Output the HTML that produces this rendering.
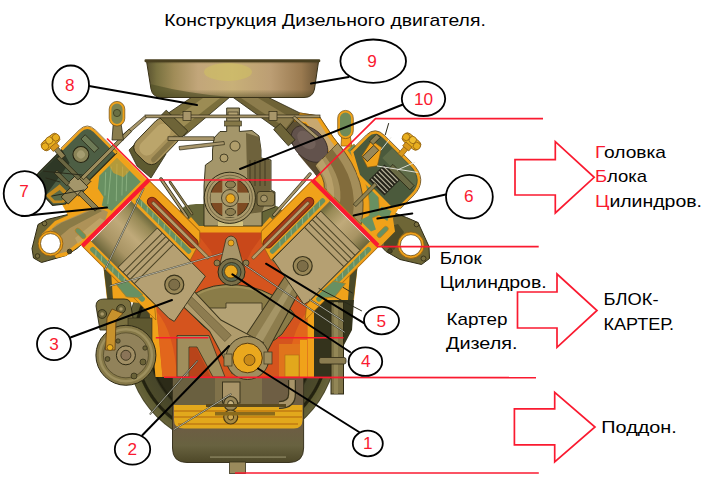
<!DOCTYPE html>
<html lang="ru"><head><meta charset="utf-8"><title>Конструкция Дизельного двигателя</title>
<style>
html,body{margin:0;padding:0;background:#fff;}
body{width:702px;height:494px;overflow:hidden;position:relative;}
svg{position:absolute;left:0;top:0;display:block;}
text{font-family:"Liberation Sans","DejaVu Sans",sans-serif;}
.t{font-size:16.6px;fill:#000;}
.r{fill:#fa1a30;}
.n{font-size:17.2px;fill:#fa1a30;text-anchor:middle;}
.rl{stroke:#fa1a30;stroke-width:1.6;fill:none;}
.ar{stroke:#fa1a30;stroke-width:1.7;fill:#fff;stroke-linejoin:miter;}
.c{fill:#fff;stroke:#000;stroke-width:1.8;}
.bl{stroke:#000;stroke-width:2;fill:none;stroke-linecap:round;}
</style></head><body>
<svg id="main" width="702" height="494" viewBox="0 0 702 494">
<!--ENGINE-->
<g id="engine">
<defs>
<linearGradient id="gPan" x1="0" y1="0" x2="1" y2="0">
<stop offset="0" stop-color="#5a5230"/><stop offset="0.06" stop-color="#7a7240"/><stop offset="0.16" stop-color="#a08c58"/><stop offset="0.3" stop-color="#c2a67a"/><stop offset="0.5" stop-color="#c8b078"/><stop offset="0.72" stop-color="#bc9e74"/><stop offset="0.9" stop-color="#9a7a50"/><stop offset="1" stop-color="#6a5434"/>
</linearGradient>
<linearGradient id="gPanV" x1="0" y1="0" x2="0" y2="1">
<stop offset="0" stop-color="#3a3218" stop-opacity="0.5"/><stop offset="0.08" stop-color="#3a3218" stop-opacity="0"/><stop offset="0.78" stop-color="#4a4420" stop-opacity="0"/><stop offset="1" stop-color="#4a4420" stop-opacity="0.55"/>
</linearGradient>
<linearGradient id="gSump" x1="0" y1="0" x2="0" y2="1">
<stop offset="0" stop-color="#6e6038"/><stop offset="0.45" stop-color="#705a46"/><stop offset="0.8" stop-color="#686240"/><stop offset="1" stop-color="#4e4828"/>
</linearGradient>
<radialGradient id="gFly" cx="0.5" cy="0.5" r="0.5">
<stop offset="0.76" stop-color="#2c2b18"/><stop offset="0.78" stop-color="#1e1d0e"/><stop offset="0.8" stop-color="#47462a"/><stop offset="0.89" stop-color="#4c4a2a"/><stop offset="0.9" stop-color="#222110"/><stop offset="0.92" stop-color="#24230f"/><stop offset="0.93" stop-color="#5e5c32"/><stop offset="0.985" stop-color="#66623a"/><stop offset="1" stop-color="#3a381c"/>
</radialGradient>
<linearGradient id="gBore" x1="0" y1="0" x2="0" y2="1">
<stop offset="0" stop-color="#6e6a3c"/><stop offset="0.14" stop-color="#988a56"/><stop offset="0.42" stop-color="#c0aa7a"/><stop offset="0.75" stop-color="#a89464"/><stop offset="1" stop-color="#6c663a"/>
</linearGradient>
<clipPath id="clipFly"><rect x="100" y="296" width="300" height="200"/></clipPath>
</defs>

<!-- flywheel housing -->
<g clip-path="url(#clipFly)"><circle cx="231.5" cy="342" r="106" fill="url(#gFly)"/></g>


<!-- oil pan -->
<path d="M172.5,377 H303.6 V448 Q303.6,462.5 289,462.5 H187 Q172.5,462.5 172.5,448 Z" fill="url(#gSump)" stroke="#3a3420" stroke-width="1"/>
<rect x="173" y="377" width="130" height="29" fill="#80724a"/>
<rect x="173" y="377" width="42" height="29" fill="#6a6040"/>
<rect x="262" y="377" width="41" height="29" fill="#6e5e44"/>
<path d="M174,405 H302.5 V420 Q302.5,428.5 294,428.5 H184 Q174,428.5 174,420 Z" fill="#e2a81c"/>
<rect x="174" y="410" width="128" height="2" fill="#c98614"/>
<rect x="174" y="416" width="128" height="2" fill="#c98614"/>
<rect x="178" y="423" width="120" height="2" fill="#c98614"/>
<rect x="222.5" y="382" width="17.5" height="21" fill="#a89468" stroke="#3a341c" stroke-width="1"/>
<circle cx="230.7" cy="403.5" r="7" fill="#9a8858" stroke="#3a341c" stroke-width="1.2"/>
<circle cx="230.7" cy="403.5" r="3" fill="#c8b480" stroke="#3a341c" stroke-width="1"/>
<circle cx="230.7" cy="417" r="7" fill="#a88a40" stroke="#4a3a14" stroke-width="1.2"/>
<circle cx="230.7" cy="417" r="3" fill="#d0a850" stroke="#4a3a14" stroke-width="1"/>
<path d="M292,380 V394 Q292,405 279,405" fill="none" stroke="#3a341c" stroke-width="8"/>
<path d="M292,380 V394 Q292,405 279,405" fill="none" stroke="#a89468" stroke-width="5.5"/>
<rect x="206" y="404" width="80" height="3" fill="#5a4a20"/>
<rect x="215" y="412" width="60" height="3.5" fill="#8a6a1c"/>
<rect id="sumphl" x="210" y="456.3" width="76" height="1.6" fill="#a09a74" opacity="0.6"/>
<rect x="229.5" y="462" width="16" height="11.5" fill="#9a8a5c" stroke="#3a341c" stroke-width="0.8"/>

<!-- crankcase -->
<polygon points="156,377 149,300 196,226 265,226 314,300 314,377" fill="#d5541e"/>
<polygon points="196,232 265,232 252,250 246,262 238,252 224,252 216,262 210,250" fill="#c9481a"/>
<polygon points="148.5,300 155.5,300 162.5,377 155.5,377" fill="#f0a21a"/>
<rect x="307.5" y="300" width="6.5" height="77" fill="#f0a21a"/>
<path d="M157,312 Q174,332 177,377 H162.5 Z" fill="#e2661c"/>
<path d="M307,312 Q290,332 287,377 H307 Z" fill="#e2661c"/>
<!-- counterweight -->
<path d="M184,302 Q200,286 226,284.5 Q252,284 272,295 Q288,305 295,315 L282,334 Q270,346 250,348 L226,340 Q200,330 184,302 Z" fill="#8a7c48" stroke="#3a341c" stroke-width="1"/>
<path d="M196,308 L226,308 L226,303 L262,303 L262,310 L274,318 Q262,338 246,342 Q214,334 196,308 Z" fill="#b4a274" stroke="#3a341c" stroke-width="0.8"/>
<path d="M186,302 Q202,288 226,286.5 Q252,286 271,296.5" fill="none" stroke="#a89860" stroke-width="2" opacity="0.7"/>
<!-- bearing web -->
<polygon points="177,335.5 209,335.5 225,377 213,377 197,347 189,347 189,377 177,377" fill="#a08e5c" stroke="#3a341c" stroke-width="0.8"/>
<polygon points="190,348 196.5,348 211,377 190,377" fill="#b8441a"/>
<rect x="279" y="344" width="26" height="33" fill="#e0741c"/>
<rect x="285" y="355" width="14" height="22" fill="#e2a81c" stroke="#b06c14" stroke-width="0.6"/>
<rect x="300" y="340" width="7" height="37" fill="#f0a21a"/>
<!-- right rod -->
<g transform="translate(312.3,180) scale(-1,1) rotate(45)">
  <polygon points="64,44 70,64 168,94 182,68" fill="#8d7d4e" stroke="#3a341c" stroke-width="1"/>
  <polygon points="82,55 84,61 160,82 164,74" fill="#a59566"/>
</g>
<!-- left rod -->
<g transform="translate(148.8,180) rotate(45)">
  <polygon points="90,46 90,66 150,64 196,78 196,34 150,48" fill="#b09c6c" stroke="#3a341c" stroke-width="1"/>
  <polygon points="108,52.5 108,59.5 168,60.5 168,51.5" fill="#8d7c50" stroke="#5a4e2c" stroke-width="0.6"/>
</g>
<!-- crank pin -->
<circle cx="247.5" cy="358" r="21.5" fill="#a08e5e" stroke="#3a341c" stroke-width="1"/>
<rect x="224" y="354" width="8" height="12" fill="#a08e5e" stroke="#3a341c" stroke-width="0.7"/>
<rect x="264" y="352" width="8" height="12" fill="#a08e5e" stroke="#3a341c" stroke-width="0.7"/>
<circle cx="247.5" cy="358" r="14.8" fill="#eaa81e" stroke="#5a3c10" stroke-width="1"/>
<circle cx="249.5" cy="360" r="5.5" fill="#c98a18" stroke="#5a3c10" stroke-width="0.8"/>
<!-- camshaft -->
<path d="M220,264 L226,239 Q231,233 236,239 L243,264 Z" fill="#a8966a" stroke="#3a341c" stroke-width="0.8"/>
<circle cx="231" cy="243" r="3" fill="#eaa81e" stroke="#5a3c10" stroke-width="0.6"/>
<circle cx="231.5" cy="272" r="13.5" fill="#7a7048" stroke="#2e2a16" stroke-width="1"/>
<circle cx="231.5" cy="272" r="9.5" fill="#5d6a50" stroke="#2e2a16" stroke-width="0.8"/>
<circle cx="231" cy="271.5" r="6.5" fill="#eaa81e" stroke="#5a3c10" stroke-width="0.8"/>
<circle cx="217" cy="263" r="3" fill="#8d7e50" stroke="#2e2a16" stroke-width="0.7"/>
<circle cx="246" cy="263" r="3" fill="#8d7e50" stroke="#2e2a16" stroke-width="0.7"/>
<!-- valley mass + crankcase top band -->
<path d="M178,214 Q182,204 196,204 H266 Q280,204 284,214 L270,229 H192 Z" fill="#666638"/>
<polygon points="186,222 197,232.5 264,232.5 275,222 270,217 262,226 199,226 191,217" fill="#f0a21a"/>
<!-- INTAKE PIPES -->
<!-- left lower connection -->
<polygon points="129,150 145,134 166,154 151,178 137,166" fill="#5e5a30" stroke="#2e2a14" stroke-width="0.8"/>
<!-- left upper pipe -->
<polygon points="192,97 230,97 184,136 164,116" fill="#7a6e3c" stroke="#2e2a14" stroke-width="0.8"/>
<polygon points="203,98 220,98 178,131 171,121" fill="#9c8c54"/>
<!-- left hose -->
<g transform="translate(156.8,141.4) rotate(-45.9)">
  <rect x="-23" y="-15" width="46" height="30" rx="9" fill="#a8925a" stroke="#2e2a14" stroke-width="0.9"/>
  <rect x="-19" y="-10" width="38" height="15" rx="7" fill="#bea86e" opacity="0.85"/>
  <rect x="-18" y="8" width="36" height="5" rx="2.5" fill="#75683c" opacity="0.6"/>
  <rect x="19" y="-15" width="10" height="30" fill="#6e6438" stroke="#2e2a14" stroke-width="0.8"/>
</g>
<!-- right upper pipe -->
<polygon points="267.5,97 232.5,97 284,134 300,113" fill="#6e6236" stroke="#2e2a14" stroke-width="0.8"/>
<polygon points="258,98 241,98 286,128 293,119" fill="#8c7c4c"/>
<!-- right hose cutaway -->
<polygon points="300,113 319,116 333,137 346,154 322,184 305,158 283,134" fill="#5c5034" stroke="#2e2a14" stroke-width="0.8"/>
<polygon points="300,113 319,116 333,137 346,154 338,164 318,140 306,124 294,121" fill="#f0a21a" stroke="#8a5a10" stroke-width="0.7"/>
<polygon points="302,116.5 317,119 329.5,139 340,153 335,159 318,137 306,122 297,121" fill="#c8a870"/>
<polygon points="298,154 324,156 334,170 322,182 308,166" fill="#57482f"/>
<ellipse cx="309.5" cy="144" rx="21.5" ry="14.5" transform="rotate(45 309.5 144)" fill="#62524c" stroke="#3a2e28" stroke-width="0.9"/>
<ellipse cx="306.5" cy="140" rx="11" ry="7" transform="rotate(45 306.5 140)" fill="#75645c" opacity="0.8"/>
<rect x="280" y="124" width="9" height="22" transform="rotate(-42 284 135)" fill="#6e6438" stroke="#2e2a14" stroke-width="0.8"/>
<!-- AIR PAN -->
<path d="M146.5,61 L151,89 Q152.5,97.5 162,97.5 H304 Q313,97.5 314.5,89 L318.6,61 Z" fill="url(#gPan)"/>
<path d="M146.5,61 L151,89 Q152.5,97.5 162,97.5 H304 Q313,97.5 314.5,89 L318.6,61 Z" fill="url(#gPanV)" stroke="#3a3218" stroke-width="1"/>
<ellipse cx="228" cy="72" rx="24" ry="9" fill="#d2c45e" opacity="0.5"/>
<path d="M150,84 L152,90 Q153.5,97 162,97 H230 Q190,94 150,84 Z" fill="#4c4c24" opacity="0.6"/>
<rect x="144.5" y="59.3" width="175.8" height="3" rx="1.2" fill="#4a4020"/>
<!-- PUMP -->
<polygon points="212.5,150 214,138 220,131.5 226.7,131.5 226.7,108 239.4,108 239.4,131.5 252,130.5 259,136 261,150 261,158 271,160 271,190 275,192 275,207 262,212 262,226 204,226 204,186 205.4,165 212.5,160" fill="#a4966a" stroke="#2e2a14" stroke-width="0.9"/>
<polygon points="246,133 259,137 261,150 261,158 270,160.5 270,190 262,212 248,214" fill="#6e623c"/>
<g stroke="#3a341c" stroke-width="0.8"><line x1="250" y1="160" x2="250" y2="186"/><line x1="255" y1="160" x2="255" y2="186"/><line x1="260" y1="160" x2="260" y2="186"/><line x1="265" y1="160" x2="265" y2="186"/></g>
<rect x="228" y="112" width="10" height="6" fill="#b4a272" stroke="#2e2a14" stroke-width="0.6"/>
<rect x="224.5" y="121" width="17" height="5" fill="#857848" stroke="#2e2a14" stroke-width="0.6"/>
<circle cx="235" cy="146" r="5" fill="#b09e6c" stroke="#2e2a14" stroke-width="0.8"/>
<circle cx="224" cy="158" r="4" fill="#b09e6c" stroke="#2e2a14" stroke-width="0.8"/>
<!-- levers / rods -->
<g stroke="#2e2a14" stroke-width="0.7" fill="#a8966a">
<rect x="145" y="115" width="175" height="2.8"/>
<polygon points="120,137 144.5,116 146.5,118 122,139.5"/>
<polygon points="319,137 294.5,116 292.5,118 317,139.5"/>
<rect x="168" y="136.8" width="46" height="3.6"/>
<polygon points="179,146.5 224,141.5 224.5,144.6 179.6,150"/>
<rect x="183" y="111.5" width="8" height="9"/>
<rect x="269" y="111.5" width="8" height="9"/>
</g>
<!-- thin diagonal fuel rods -->
<g stroke-linecap="round">
<line x1="161" y1="179" x2="187" y2="217" stroke="#2e2a14" stroke-width="3.4"/>
<line x1="161" y1="179" x2="187" y2="217" stroke="#a8966a" stroke-width="2"/>
<line x1="170" y1="182" x2="192" y2="214" stroke="#2e2a14" stroke-width="2.6"/>
<line x1="170" y1="182" x2="192" y2="214" stroke="#8d7e50" stroke-width="1.4"/>
<line x1="310" y1="174" x2="274" y2="215" stroke="#2e2a14" stroke-width="3.4"/>
<line x1="310" y1="174" x2="274" y2="215" stroke="#a8966a" stroke-width="2"/>
</g>
<!-- pump wheel -->
<rect x="218" y="221.5" width="25" height="4.5" fill="#d4c480"/>
<circle cx="229.8" cy="197.8" r="25.6" fill="#a8986a" stroke="#2e2a14" stroke-width="1"/>
<circle cx="229.8" cy="197.8" r="22.6" fill="none" stroke="#5a5030" stroke-width="0.7"/>
<circle cx="229.8" cy="197.8" r="19.5" fill="#7e4a22" stroke="#2e2a14" stroke-width="0.9"/>
<rect x="210.5" y="192.6" width="38.6" height="10.4" fill="#a8986a"/>
<rect x="222.3" y="178.5" width="15" height="38.6" fill="#a8986a"/>
<circle cx="230" cy="198" r="8.5" fill="#a8986a" stroke="#2e2a14" stroke-width="0.8"/>
<ellipse cx="230.5" cy="184.5" rx="5" ry="3.6" fill="#8d7e50" stroke="#2e2a14" stroke-width="0.8"/>
<ellipse cx="230.5" cy="212" rx="5" ry="3.6" fill="#8d7e50" stroke="#2e2a14" stroke-width="0.8"/>
<circle cx="230.5" cy="198.4" r="4.6" fill="#eaa81e" stroke="#5a3c10" stroke-width="0.8"/>
<rect x="257" y="191.5" width="17.5" height="14.5" rx="3" fill="#8d7e50" stroke="#2e2a14" stroke-width="0.8"/>
<circle cx="264" cy="198.5" r="3.4" fill="#a49468" stroke="#2e2a14" stroke-width="0.7"/>
<!-- block shoulders -->
<polygon points="103,263 107,300 140,303 152,306 118,272" fill="#f0a21a"/>
<polygon points="103,263 107.5,300 113,300 111,271" fill="#4c4a28"/>
<polygon points="115.5,283.5 127.5,281.5 143,294.5 139,298 126,297" fill="#689062"/>
<polygon points="358,263 354,300 321,303 309,306 343,272" fill="#f0a21a"/>
<polygon points="358,263 353.5,300 348,300 350,271" fill="#4c4a28"/>
<polygon points="345.5,283.5 333.5,281.5 318,294.5 322,298 335,297" fill="#689062"/>
<polygon points="314,300 354,300 352,330 344,345 344,377 314,377" fill="#34331c"/>
<!-- right dipstick tube -->
<rect x="331" y="302" width="12.5" height="92" fill="#7f7448" stroke="#2e2a14" stroke-width="1"/>
<rect x="334" y="302" width="4" height="92" fill="#9a8e5c" opacity="0.7"/>
<rect x="319" y="357.5" width="27" height="6.5" rx="2" fill="#8a7c50" stroke="#2e2a14" stroke-width="0.8"/>
<!-- GENERATOR -->
<path d="M96,306 Q96,299 104,299 H124 Q131,299 131,306 L135,330 L100,330 Z" fill="#7a7040" stroke="#2e2a14" stroke-width="0.9"/>
<rect x="128" y="318" width="24" height="50" fill="#5e5830" stroke="#2e2a14" stroke-width="0.6"/>
<circle cx="125.9" cy="355.3" r="30" fill="#857848" stroke="#2e2a14" stroke-width="1"/>
<circle cx="125.9" cy="355.3" r="26" fill="none" stroke="#a89a68" stroke-width="2.4" opacity="0.7"/>
<circle cx="125.9" cy="355.3" r="22.5" fill="#91825a" stroke="#4a4224" stroke-width="0.7"/>
<circle cx="125.9" cy="355.3" r="9.5" fill="#a08e64" stroke="#2e2a14" stroke-width="1"/>
<circle cx="125.9" cy="355.3" r="5" fill="#8a7458" stroke="#2e2a14" stroke-width="0.8"/>
<circle cx="102.2" cy="314" r="4.4" fill="#6a6238" stroke="#2e2a14" stroke-width="0.9"/><circle cx="102.2" cy="314" r="1.8" fill="#a89868"/>
<circle cx="121" cy="309" r="4.4" fill="#6a6238" stroke="#2e2a14" stroke-width="0.9"/><circle cx="121" cy="309" r="1.8" fill="#a89868"/>
<polygon points="112,309 123,313.5 116,320 115,350 105.5,350 107,318" fill="#c8922c" stroke="#5a3c10" stroke-width="0.8"/>
<circle cx="110" cy="347.5" r="3" fill="#eab020" stroke="#5a3c10" stroke-width="0.7"/>
<circle cx="107.5" cy="359" r="2.4" fill="#6a6238" stroke="#2e2a14" stroke-width="0.7"/>
<circle cx="143" cy="362" r="3" fill="#6a6238" stroke="#2e2a14" stroke-width="0.7"/>
<circle cx="134" cy="376" r="3" fill="#6a6238" stroke="#2e2a14" stroke-width="0.7"/>
<circle cx="145" cy="348" r="2.2" fill="#6a6238" stroke="#2e2a14" stroke-width="0.7"/>
<circle cx="118" cy="341" r="2.2" fill="#6a6238" stroke="#2e2a14" stroke-width="0.7"/>
<!-- LEFT BANK -->
<g transform="translate(148.8,180) rotate(45)">
  <!-- block walls -->
  <polygon points="0,0 72,0 80,8 86,27.5 0,27.5" fill="#f0a21a" stroke="#8a5a10" stroke-width="0.6"/>
  <polygon points="0,84 92,84 104,94 0,94" fill="#f0a21a" stroke="#8a5a10" stroke-width="0.6"/>
  <line x1="0" y1="0.4" x2="72" y2="0.4" stroke="#b87412" stroke-width="0.9"/>
  <line x1="0" y1="93.7" x2="52" y2="93.7" stroke="#b87412" stroke-width="0.9"/>
  <!-- pushrod tunnel -->
  <rect x="13" y="8.5" width="68" height="9.4" rx="4.7" fill="#a93a16" stroke="#6e2610" stroke-width="1"/>
  <rect x="18" y="11.6" width="80" height="3.2" rx="1.6" fill="#b59c6a" stroke="#4a3a1c" stroke-width="0.6"/>
  <!-- water jackets -->
  <rect x="5" y="19.6" width="76" height="5" rx="2" fill="#689062"/>
  <rect x="7" y="86.3" width="75" height="5" rx="2" fill="#689062"/>
  <g stroke="#a6c89a" stroke-width="0.7" opacity="0.8"><line x1="10" y1="20" x2="14" y2="24.4"/><line x1="18" y1="20" x2="22" y2="24.4"/><line x1="26" y1="20" x2="30" y2="24.4"/><line x1="34" y1="20" x2="38" y2="24.4"/><line x1="42" y1="20" x2="46" y2="24.4"/><line x1="50" y1="20" x2="54" y2="24.4"/><line x1="58" y1="20" x2="62" y2="24.4"/><line x1="66" y1="20" x2="70" y2="24.4"/><line x1="12" y1="86.6" x2="16" y2="91"/><line x1="20" y1="86.6" x2="24" y2="91"/><line x1="28" y1="86.6" x2="32" y2="91"/><line x1="36" y1="86.6" x2="40" y2="91"/><line x1="44" y1="86.6" x2="48" y2="91"/><line x1="52" y1="86.6" x2="56" y2="91"/><line x1="60" y1="86.6" x2="64" y2="91"/><line x1="68" y1="86.6" x2="72" y2="91"/></g>
  <!-- bore -->
  <rect x="2.5" y="27.5" width="83" height="56.5" fill="url(#gBore)"/>
  <!-- piston -->
  <polygon points="40,28 108,28 118,82 112,83.5 40,83.5" fill="#b5a072" stroke="#3a341c" stroke-width="0.9"/>
  <g stroke="#4a4224" stroke-width="1"><line x1="47" y1="28" x2="47" y2="83.5"/><line x1="52" y1="28" x2="52" y2="83.5"/><line x1="57" y1="28" x2="57" y2="83.5"/><line x1="63" y1="28" x2="63" y2="83.5"/></g>
  <circle cx="92" cy="56" r="9.5" fill="#9a8858" stroke="#3a341c" stroke-width="1.2"/>
  <circle cx="92" cy="56" r="5.5" fill="#7d6e48" stroke="#3a341c" stroke-width="0.8"/>
</g>
<!-- RIGHT BANK -->
<g transform="translate(312.3,180) scale(-1,1) rotate(45)">
  <!-- block walls -->
  <polygon points="0,0 72,0 80,8 86,27.5 0,27.5" fill="#f0a21a" stroke="#8a5a10" stroke-width="0.6"/>
  <polygon points="0,84 92,84 104,94 0,94" fill="#f0a21a" stroke="#8a5a10" stroke-width="0.6"/>
  <line x1="0" y1="0.4" x2="72" y2="0.4" stroke="#b87412" stroke-width="0.9"/>
  <line x1="0" y1="93.7" x2="52" y2="93.7" stroke="#b87412" stroke-width="0.9"/>
  <!-- pushrod tunnel -->
  <rect x="13" y="8.5" width="68" height="9.4" rx="4.7" fill="#a93a16" stroke="#6e2610" stroke-width="1"/>
  <rect x="18" y="11.6" width="80" height="3.2" rx="1.6" fill="#b59c6a" stroke="#4a3a1c" stroke-width="0.6"/>
  <!-- water jackets -->
  <rect x="5" y="19.6" width="76" height="5" rx="2" fill="#689062"/>
  <rect x="7" y="86.3" width="75" height="5" rx="2" fill="#689062"/>
  <g stroke="#a6c89a" stroke-width="0.7" opacity="0.8"><line x1="10" y1="20" x2="14" y2="24.4"/><line x1="18" y1="20" x2="22" y2="24.4"/><line x1="26" y1="20" x2="30" y2="24.4"/><line x1="34" y1="20" x2="38" y2="24.4"/><line x1="42" y1="20" x2="46" y2="24.4"/><line x1="50" y1="20" x2="54" y2="24.4"/><line x1="58" y1="20" x2="62" y2="24.4"/><line x1="66" y1="20" x2="70" y2="24.4"/><line x1="12" y1="86.6" x2="16" y2="91"/><line x1="20" y1="86.6" x2="24" y2="91"/><line x1="28" y1="86.6" x2="32" y2="91"/><line x1="36" y1="86.6" x2="40" y2="91"/><line x1="44" y1="86.6" x2="48" y2="91"/><line x1="52" y1="86.6" x2="56" y2="91"/><line x1="60" y1="86.6" x2="64" y2="91"/><line x1="68" y1="86.6" x2="72" y2="91"/></g>
  <!-- bore -->
  <rect x="2.5" y="27.5" width="83" height="56.5" fill="url(#gBore)"/>
  <!-- piston -->
  <polygon points="16,28 84,28 94,82 88,83.5 16,83.5" fill="#b5a072" stroke="#3a341c" stroke-width="0.9"/>
  <g stroke="#4a4224" stroke-width="1"><line x1="23" y1="28" x2="23" y2="83.5"/><line x1="28" y1="28" x2="28" y2="83.5"/><line x1="33" y1="28" x2="33" y2="83.5"/><line x1="39" y1="28" x2="39" y2="83.5"/></g>
  <circle cx="67.6" cy="54" r="9.5" fill="#9a8858" stroke="#3a341c" stroke-width="1.2"/>
  <circle cx="67.6" cy="54" r="5.5" fill="#7d6e48" stroke="#3a341c" stroke-width="0.8"/>
</g>
<!-- water jacket pockets at bank bottoms -->
<polygon points="115.4,283.5 127.6,281 143,294.5 139,298 126.6,297" fill="#689062" stroke="#c07c14" stroke-width="0.7"/>
<polygon points="345.6,283.5 333.4,281 318,294.5 322,298 334.4,297" fill="#689062" stroke="#c07c14" stroke-width="0.7"/>
<!-- LEFT EXHAUST MANIFOLD flange -->
<polygon points="47,219.5 38,224.5 32,248.5 33.5,258 41.5,262.5 66,255.5 77,248.5 84,242 92,222 70,214" fill="#6e6636" stroke="#2e2a14" stroke-width="1"/>
<!-- LEFT HEAD -->
<g transform="translate(148.8,180) rotate(45)">
  <!-- head body -->
  <polygon points="-46,1 0,1 0,94 -18,94 -26,84 -46,78" fill="#f0a21a"/>
  <!-- green water jackets -->
  <polygon points="-38,7 -4.5,7 -4.5,50 -12,56 -20,44 -30,42 -38,32" fill="#689062"/>
  <g stroke="#9cc090" stroke-width="0.8" opacity="0.75"><line x1="-34" y1="11" x2="-8" y2="38"/><line x1="-28" y1="9" x2="-8" y2="30"/><line x1="-22" y1="9" x2="-8" y2="24"/><line x1="-36" y1="17" x2="-12" y2="46"/><line x1="-36" y1="25" x2="-20" y2="42"/></g>
  <polygon points="-38,7 -20,7 -20,16 -30,20 -38,18" fill="#f0a21a" opacity="0.55"/>
</g>
<!-- exhaust runner -->
<polygon points="42,234 55,221 97,203 112,211 108,224 66,256 56,258" fill="#f0a21a"/>
<polygon points="45,235 57,224 97,206.5 108,212 105,221 66,252 57,254" fill="#ae9258"/>
<polygon points="52,229 62,222.5 97,208 102,211 70,228 58,238" fill="#8a7a46"/>
<polygon points="75,238 100,218 106,221 78,244" fill="#c4aa6c" opacity="0.7"/>
<circle cx="50.5" cy="243.6" r="12.4" fill="#f0a21a" stroke="#8a5a10" stroke-width="0.8"/>
<circle cx="50.5" cy="243.6" r="10" fill="#fff" stroke="#6a4a10" stroke-width="0.8"/>
<circle cx="44.5" cy="223.5" r="2.3" fill="#7a7040" stroke="#2e2a14" stroke-width="0.8"/>
<circle cx="37.5" cy="256" r="2.3" fill="#7a7040" stroke="#2e2a14" stroke-width="0.8"/>
<circle cx="69.5" cy="251.5" r="2.3" fill="#4a4424" stroke="#2e2a14" stroke-width="0.8"/>
<g transform="translate(148.8,180) rotate(45)">
  <rect x="-17" y="83.5" width="13" height="5" rx="2.5" fill="#689062" stroke="#c07c14" stroke-width="0.6"/>
  <!-- valve cover -->
  <path d="M-42,4 H-73 Q-83,4 -83,14 V72 Q-83,84 -74,85 L-50,86 L-42,76 Z" fill="#4d5e44" stroke="#2a2a18" stroke-width="1.2"/>
  <path d="M-42,4 H-73 Q-83,4 -83,14 V40" fill="none" stroke="#f0a21a" stroke-width="2.4"/>
  <path d="M-42,2.4 H-73 Q-84.6,2.4 -84.6,14 V40" fill="none" stroke="#6a4a10" stroke-width="0.7"/>
  <path d="M-82,40 V72 Q-82,83 -74,84 L-62,84 L-68,44 Z" fill="#2e3826"/>
  <polygon points="-60,66 -44,66 -44,76 -51,84 -62,84" fill="#c48a1c"/>
  <polygon points="-56,70 -47,70 -47,76 -52,81 -58,81" fill="#5a6a48"/>
  <!-- inner parts -->
  <circle cx="-66" cy="30" r="8" fill="#8a8458" stroke="#23200f" stroke-width="1"/>
  <circle cx="-66" cy="30" r="4" fill="#a49c70"/>
  <rect x="-77" y="13" width="19" height="6" fill="#6d7a56" stroke="#23200f" stroke-width="0.7"/>
  <!-- injector -->
  <rect x="-50" y="42" width="10" height="32" fill="#8d8052" stroke="#23200f" stroke-width="0.8"/>
  <rect x="-55" y="48" width="17" height="13" fill="#a4966a" stroke="#23200f" stroke-width="0.8"/>
  <rect x="-40" y="55" width="24" height="5" fill="#8d8052" stroke="#23200f" stroke-width="0.7"/>
  <!-- valve stem & rocker -->
  <rect x="-80" y="46" width="30" height="4" fill="#6a6642" stroke="#23200f" stroke-width="0.7"/>
  <rect x="-72" y="58" width="18" height="4" fill="#6a6642" stroke="#23200f" stroke-width="0.7"/>
  <!-- fuel line -->
  <rect x="-50" y="-22" width="3.6" height="68" fill="#9c8c5c" stroke="#23200f" stroke-width="0.7"/>
</g>
<!-- knob -->
<g transform="translate(50.5,142) rotate(-40)">
  <rect x="-2.5" y="4" width="5" height="16" fill="#8d8052" stroke="#23200f" stroke-width="0.7"/>
  <rect x="-10" y="-5" width="20" height="10" rx="4" fill="#e8ae1e" stroke="#8a5a10" stroke-width="0.8"/>
  <circle cx="-7" cy="0" r="3.6" fill="#e8ae1e" stroke="#8a5a10" stroke-width="0.7"/><circle cx="0" cy="-2" r="3.6" fill="#f0be30" stroke="#8a5a10" stroke-width="0.7"/><circle cx="7" cy="0" r="3.6" fill="#e8ae1e" stroke="#8a5a10" stroke-width="0.7"/>
  <rect x="-4" y="4" width="8" height="5" fill="#d8981c" stroke="#8a5a10" stroke-width="0.7"/>
</g>
<!-- left lifting eye -->
<path d="M112,140 L113.5,120 H120.5 L123.5,140 Z" fill="#8a7c4c" stroke="#2e2a14" stroke-width="0.8"/>
<rect x="110.3" y="102.5" width="13.4" height="22.5" rx="6.7" fill="#7d8450" stroke="#f0a21a" stroke-width="2.2"/>
<rect x="109.2" y="101.4" width="15.6" height="24.7" rx="7.8" fill="none" stroke="#6a4a10" stroke-width="0.7"/>
<circle cx="117" cy="113" r="3.6" fill="#6a7044" stroke="#3a3a1c" stroke-width="0.8"/>
<!-- RIGHT EXHAUST MANIFOLD -->
<polygon points="406.5,217.5 418,222.5 429,246.5 429.5,258.5 421.5,264.5 400,259.5 386,251.5 378,243 372,224 392,212" fill="#6e6636" stroke="#2e2a14" stroke-width="1"/>
<polygon points="384,228 398,224 404,232 394,250 384,246" fill="#4e4a26"/>
<circle cx="410.9" cy="245.2" r="13.2" fill="#f0a21a" stroke="#8a5a10" stroke-width="0.8"/>
<circle cx="410.9" cy="245.2" r="10.6" fill="#fff" stroke="#6a4a10" stroke-width="0.8"/>
<circle cx="416.5" cy="224.5" r="2.3" fill="#7a7040" stroke="#2e2a14" stroke-width="0.8"/>
<circle cx="423.5" cy="258.5" r="2.5" fill="#7a7040" stroke="#2e2a14" stroke-width="0.8"/>
<circle cx="390" cy="251" r="2.3" fill="#4a4424" stroke="#2e2a14" stroke-width="0.8"/>
<!-- RIGHT HEAD -->
<g transform="translate(312.3,180) scale(-1,1) rotate(45)">
  <polygon points="-52,1 0,1 0,95 -22,95 -30,84 -52,78" fill="#f0a21a"/>
  <!-- intake port (tan) -->
  <path d="M-44,-8 Q-40,42 -3,66 L-3,14 Q-10,8 -12,-8 Z" fill="#a48e5a" stroke="#4a3a1c" stroke-width="0.7"/>
  <path d="M-36,-8 Q-32,34 -3,54 L-3,36 Q-22,22 -26,-8 Z" fill="#826c3c"/>
  <path d="M-22,-8 Q-18,14 -3,28 L-3,18 Q-12,10 -14,-8 Z" fill="#b8a06a"/>
  <!-- green strip -->
  <path d="M-55,4 L-46,4 Q-42,44 -12,68 L-22,72 Q-51,48 -55,4 Z" fill="#689062" stroke="#c07c14" stroke-width="0.6"/>
  <polygon points="-17,66 -5,62 -5,78 -10,80" fill="#689062"/>
  <rect x="-20" y="84" width="14" height="5" rx="2.5" fill="#689062" stroke="#c07c14" stroke-width="0.6"/>
  <polygon points="-30,68 -22,70 -24,82 -34,78" fill="#689062"/>
  <!-- valve cover -->
  <path d="M-48,8 H-70 Q-81,8 -81,20 V58 Q-81,81 -60,81 L-42,81 L-36,75 V30 Z" fill="#4b5a3c" stroke="#f0a21a" stroke-width="2.6"/>
  <path d="M-48,6.4 H-70 Q-82.6,6.4 -82.6,20 V58 Q-82.6,82.6 -60,82.6 L-42,82.6" fill="none" stroke="#6a4a10" stroke-width="0.8"/>
  <path d="M-79,34 H-65 V78 Q-79,76 -79,56 Z" fill="#5f6c48"/>
  <!-- spring -->
  <g transform="translate(-40,40)">
    <rect x="-22" y="0" width="22" height="22" fill="#26241a"/>
    <g stroke="#b8b49a" stroke-width="1.2"><line x1="-20" y1="1" x2="-20" y2="21"/><line x1="-16.5" y1="1" x2="-16.5" y2="21"/><line x1="-13" y1="1" x2="-13" y2="21"/><line x1="-9.5" y1="1" x2="-9.5" y2="21"/><line x1="-6" y1="1" x2="-6" y2="21"/><line x1="-2.5" y1="1" x2="-2.5" y2="21"/></g>
  </g>
  <rect x="-68" y="46" width="6" height="30" fill="#6a6a44" stroke="#23200f" stroke-width="0.7"/>
  <!-- rocker parts (tan/orange) -->
  <polygon points="-70,14 -52,18 -48,30 -56,36 -72,26" fill="#f0a21a" stroke="#8a5a10" stroke-width="0.6"/>
  <rect x="-68" y="19" width="16" height="7" fill="#9a8858" stroke="#23200f" stroke-width="0.7"/>
  <rect x="-78" y="13" width="10" height="5" fill="#8d8052" stroke="#23200f" stroke-width="0.7"/>
  <rect x="-42" y="46" width="30" height="3.6" fill="#8d8052" stroke="#23200f" stroke-width="0.6"/>
</g>
<!-- right knob -->
<g transform="translate(411.5,141.5) rotate(40)">
  <rect x="-2.5" y="4" width="5" height="14" fill="#d8981c" stroke="#8a5a10" stroke-width="0.7"/>
  <rect x="-10" y="-5" width="20" height="10" rx="4" fill="#e8ae1e" stroke="#8a5a10" stroke-width="0.8"/>
  <circle cx="-7" cy="0" r="3.6" fill="#e8ae1e" stroke="#8a5a10" stroke-width="0.7"/><circle cx="0" cy="-2" r="3.6" fill="#f0be30" stroke="#8a5a10" stroke-width="0.7"/><circle cx="7" cy="0" r="3.6" fill="#e8ae1e" stroke="#8a5a10" stroke-width="0.7"/>
  <rect x="-4" y="4" width="8" height="5" fill="#d8981c" stroke="#8a5a10" stroke-width="0.7"/>
</g>
<!-- right lifting eye -->
<path d="M341,146 L342,130 H349 L352,146 Z" fill="#f0a21a" stroke="#8a5a10" stroke-width="0.8"/>
<rect x="338.8" y="111.5" width="13.4" height="26" rx="6.7" fill="#6f8a58" stroke="#f0a21a" stroke-width="2.2"/>
<rect x="337.7" y="110.4" width="15.6" height="28.2" rx="7.8" fill="none" stroke="#6a4a10" stroke-width="0.7"/>
<!-- thin leader lines -->
<g fill="none" stroke-linecap="round">
<g stroke="#2a2a1a" stroke-width="1.7" opacity="0.8">
<line x1="245.2" y1="265.3" x2="344.3" y2="332"/>
<line x1="310" y1="299.7" x2="343.3" y2="321"/>
<line x1="110" y1="286" x2="222" y2="253.5"/>
<line x1="143.6" y1="188.7" x2="105" y2="269.7"/>
<line x1="173.9" y1="429.6" x2="230.8" y2="394.2"/>
<line x1="150.3" y1="413.9" x2="197.4" y2="360.9"/>
</g>
<g stroke="#e0e0d4" stroke-width="0.7">
<line x1="245.2" y1="265.3" x2="344.3" y2="332"/>
<line x1="310" y1="299.7" x2="343.3" y2="321"/>
<line x1="110" y1="286" x2="222" y2="253.5"/>
<line x1="143.6" y1="188.7" x2="105" y2="269.7"/>
<line x1="173.9" y1="429.6" x2="230.8" y2="394.2"/>
<line x1="150.3" y1="413.9" x2="197.4" y2="360.9"/>
</g>
<g stroke="#2a2a1a" stroke-width="1">
<line x1="319" y1="288.6" x2="361.5" y2="310.8"/>
<line x1="343.3" y1="287.5" x2="352.4" y2="293"/>
<line x1="388.6" y1="123.5" x2="385.3" y2="134.7"/>
<line x1="43.6" y1="171.2" x2="82.3" y2="175"/>
<line x1="46" y1="178" x2="60" y2="182"/>
<line x1="52" y1="196" x2="84" y2="190"/>
</g>
<g stroke="#e8e8e0" stroke-width="0.9">
<line x1="381" y1="150" x2="391" y2="137.5"/>
<line x1="377.4" y1="166" x2="417.3" y2="172.4"/>
<line x1="397.3" y1="170" x2="414.8" y2="162.4"/>
</g>
</g>

</g>
<!--/ENGINE-->
<g id="redlines">
<polyline class="rl" points="543,118.6 375.5,118.6 313.5,180"/>
<polyline class="rl" points="107,138.5 148.8,180 312.5,180"/>
<line x1="82.3" y1="246" x2="148.8" y2="180" stroke="#fa1a30" stroke-width="4.2"/>
<line x1="312.3" y1="180" x2="378" y2="245.5" stroke="#fa1a30" stroke-width="4.2"/>
<line class="rl" x1="377" y1="246.6" x2="538.7" y2="246.6"/>
<line class="rl" x1="164" y1="377.3" x2="536" y2="377.6"/>
<line class="rl" x1="155.8" y1="337.8" x2="208.3" y2="337.8"/>
<line class="rl" x1="277.9" y1="337.8" x2="343.6" y2="337.8"/>
<line class="rl" x1="235" y1="473" x2="538.8" y2="473"/>
</g>
<g id="arrows">
<polygon class="ar" points="515,159.6 555.3,159.6 555.3,141.7 594.2,177.3 555.3,213 555.3,195 515,195"/>
<polygon class="ar" points="517.5,292 557,292 557,274 597,310.5 557,347.3 557,328 517.5,328"/>
<polygon class="ar" points="514.4,408.8 554.7,408.8 554.7,392.4 595,427 554.7,462 554.7,444.8 514.4,444.8"/>
</g>
<g id="labels">
<text class="t" x="164.3" y="26.2" textLength="321.5" lengthAdjust="spacingAndGlyphs">Конструкция Дизельного двигателя.</text>
<text class="t" x="595" y="157.7" textLength="71" lengthAdjust="spacingAndGlyphs"><tspan class="r">Г</tspan>оловка</text>
<text class="t" x="595" y="182.3" textLength="52" lengthAdjust="spacingAndGlyphs"><tspan class="r">Б</tspan>лока</text>
<text class="t" x="595" y="206.6" textLength="107" lengthAdjust="spacingAndGlyphs"><tspan class="r">Ц</tspan>илиндров.</text>
<text class="t" x="439.7" y="264.4" textLength="42" lengthAdjust="spacingAndGlyphs">Блок</text>
<text class="t" x="439.7" y="288.2" textLength="107" lengthAdjust="spacingAndGlyphs">Цилиндров.</text>
<text class="t" x="446.5" y="325.1" textLength="61" lengthAdjust="spacingAndGlyphs">Картер</text>
<text class="t" x="446" y="348.7" textLength="71.5" lengthAdjust="spacingAndGlyphs">Дизеля.</text>
<text class="t" x="603.5" y="304.8" textLength="55" lengthAdjust="spacingAndGlyphs">БЛОК-</text>
<text class="t" x="603.5" y="330" textLength="70.5" lengthAdjust="spacingAndGlyphs">КАРТЕР.</text>
<text class="t" x="601.3" y="433.3" textLength="75.5" lengthAdjust="spacingAndGlyphs">Поддон.</text>
</g>
<g id="callouts">
<line class="bl" x1="89" y1="86.1" x2="197" y2="105"/>
<line class="bl" x1="22" y1="216" x2="107" y2="207.5"/>
<line class="bl" x1="71" y1="337.3" x2="172" y2="300"/>
<line class="bl" x1="142.3" y1="435.3" x2="229" y2="346"/>
<line class="bl" x1="359" y1="432" x2="258" y2="368.5"/>
<line class="bl" x1="350" y1="352" x2="232.4" y2="274.4"/>
<line class="bl" x1="364.8" y1="323.6" x2="266" y2="263.7"/>
<line class="bl" x1="446.7" y1="194.3" x2="353.7" y2="215.5"/>
<line class="bl" x1="412.3" y1="213.5" x2="377.4" y2="218.5"/>
<line class="bl" x1="348.7" y1="77" x2="311" y2="83.5"/>
<line class="bl" x1="402.3" y1="104.8" x2="240" y2="169"/>
<ellipse class="c" cx="70.7" cy="84.9" rx="18.3" ry="19.4"/>
<ellipse class="c" cx="24.7" cy="193.6" rx="21" ry="22.4"/>
<ellipse class="c" cx="54" cy="344" rx="17" ry="16.2"/>
<ellipse class="c" cx="132.5" cy="449.2" rx="17.7" ry="15.4"/>
<ellipse class="c" cx="367.8" cy="443.5" rx="15" ry="12.8"/>
<ellipse class="c" cx="365.4" cy="361.6" rx="16.8" ry="14.3"/>
<ellipse class="c" cx="381.5" cy="320.6" rx="17.5" ry="13.7"/>
<ellipse class="c" cx="469.4" cy="196.7" rx="23.4" ry="21.8"/>
<ellipse class="c" cx="373.2" cy="61.2" rx="32.8" ry="21.7"/>
<ellipse class="c" cx="423.5" cy="98.8" rx="21.7" ry="17.2"/>
<text class="n" x="69.8" y="91.1">8</text>
<text class="n" x="24" y="197.4">7</text>
<text class="n" x="54" y="349.8">3</text>
<text class="n" x="132.2" y="454.5">2</text>
<text class="n" x="367.8" y="449">1</text>
<text class="n" x="365.8" y="366.7">4</text>
<text class="n" x="381.2" y="326.8">5</text>
<text class="n" x="468.7" y="202.3">6</text>
<text class="n" x="372" y="66.9">9</text>
<text class="n" x="423.5" y="104.8">10</text>
</g>
</svg>
</body></html>
